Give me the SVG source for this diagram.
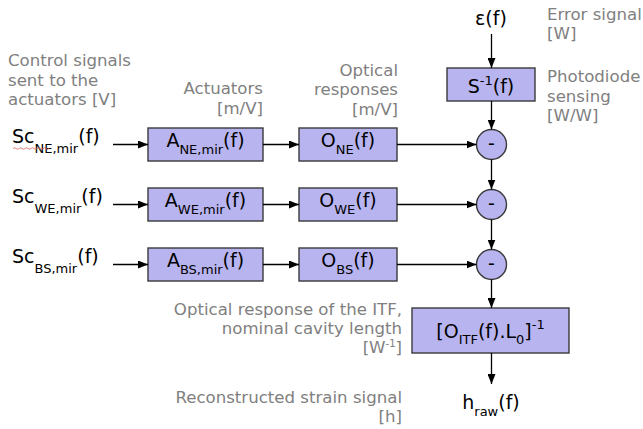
<svg xmlns="http://www.w3.org/2000/svg" width="643" height="429" viewBox="0 0 643 429">
<defs>
<marker id="ah" viewBox="0 0 10 8" refX="10" refY="4" markerWidth="10" markerHeight="8" markerUnits="userSpaceOnUse" orient="auto">
<path d="M0,0 L10,4 L0,8 Z" fill="#000"/>
</marker>
<style>
.box{fill:#b8b4f0;stroke:#3a3a3a;stroke-width:1.4}
.lbl{font-family:"DejaVu Sans",Verdana,sans-serif;font-size:16.6px;fill:#808080}
.m{font-family:"DejaVu Sans",Verdana,sans-serif;font-size:19px;fill:#000}
.s{font-size:13px}
.ln{stroke:#000;stroke-width:1.3;fill:none;marker-end:url(#ah)}
</style>
</defs>
<rect width="643" height="429" fill="#fff"/>

<g id="labels">
<text class="lbl" x="8" y="66">Control signals</text>
<text class="lbl" x="8" y="85.5">sent to the</text>
<text class="lbl" x="8" y="105">actuators [V]</text>
<text class="lbl" x="263" y="94" text-anchor="end">Actuators</text>
<text class="lbl" x="263" y="113.5" text-anchor="end">[m/V]</text>
<text class="lbl" x="398" y="75.5" text-anchor="end">Optical</text>
<text class="lbl" x="398" y="95" text-anchor="end">responses</text>
<text class="lbl" x="398" y="114.5" text-anchor="end">[m/V]</text>
<text class="lbl" x="547" y="19.5">Error signal</text>
<text class="lbl" x="547" y="39">[W]</text>
<text class="lbl" x="547" y="82">Photodiode</text>
<text class="lbl" x="547" y="101.5">sensing</text>
<text class="lbl" x="547" y="121">[W/W]</text>
<text class="lbl" x="402" y="315" text-anchor="end">Optical response of the ITF,</text>
<text class="lbl" x="402" y="334" text-anchor="end">nominal cavity length</text>
<text class="lbl" x="402" y="353" text-anchor="end">[W<tspan font-size="10px" dy="-6">-1</tspan><tspan dy="6">]</tspan></text>
<text class="lbl" x="402" y="402.5" text-anchor="end">Reconstructed strain signal</text>
<text class="lbl" x="402" y="422" text-anchor="end">[h]</text>
</g>

<g id="in_NE">
<text class="m" x="12" y="143">Sc<tspan class="s" dy="9.5">NE,mir</tspan><tspan dy="-9.5">(f)</tspan></text>
<path d="M13,148.5 q1.5,-1.5 3,0 t3,0 t3,0 t3,0 t3,0 t3,0 t3,0 t3,0 t3,0 t3,0 t3,0 t3,0" fill="none" stroke="#e06060" stroke-width="0.8"/>
</g>
<g id="in_WE">
<text class="m" x="12" y="203">Sc<tspan class="s" dy="9.5">WE,mir</tspan><tspan dy="-9.5">(f)</tspan></text>
</g>
<g id="in_BS">
<text class="m" x="12" y="263">Sc<tspan class="s" dy="9.5">BS,mir</tspan><tspan dy="-9.5">(f)</tspan></text>
</g>

<g id="A_NE">
<rect class="box" x="148" y="128" width="115" height="33"/>
<text class="m" x="205.5" y="147" text-anchor="middle">A<tspan class="s" dy="7">NE,mir</tspan><tspan dy="-7">(f)</tspan></text>
</g>
<g id="A_WE">
<rect class="box" x="148" y="188" width="115" height="33"/>
<text class="m" x="205.5" y="207" text-anchor="middle">A<tspan class="s" dy="7">WE,mir</tspan><tspan dy="-7">(f)</tspan></text>
</g>
<g id="A_BS">
<rect class="box" x="148" y="248" width="115" height="33"/>
<text class="m" x="205.5" y="267" text-anchor="middle">A<tspan class="s" dy="7">BS,mir</tspan><tspan dy="-7">(f)</tspan></text>
</g>

<g id="O_NE">
<rect class="box" x="299" y="128" width="98" height="33"/>
<text class="m" x="348" y="147" text-anchor="middle">O<tspan class="s" dy="7">NE</tspan><tspan dy="-7">(f)</tspan></text>
</g>
<g id="O_WE">
<rect class="box" x="299" y="188" width="98" height="33"/>
<text class="m" x="348" y="207" text-anchor="middle">O<tspan class="s" dy="7">WE</tspan><tspan dy="-7">(f)</tspan></text>
</g>
<g id="O_BS">
<rect class="box" x="299" y="248" width="98" height="33"/>
<text class="m" x="348" y="267" text-anchor="middle">O<tspan class="s" dy="7">BS</tspan><tspan dy="-7">(f)</tspan></text>
</g>

<g id="eps">
<text class="m" x="491" y="25" text-anchor="middle">ε(f)</text>
</g>
<g id="S">
<rect class="box" x="447" y="68" width="88" height="33"/>
<text class="m" x="491" y="93" text-anchor="middle">S<tspan class="s" dy="-8">-1</tspan><tspan dy="8">(f)</tspan></text>
</g>

<g id="sum1">
<circle class="box" cx="491.5" cy="144.5" r="15"/>
<text class="m" x="491.5" y="150" text-anchor="middle" font-size="16px">-</text>
</g>
<g id="sum2">
<circle class="box" cx="491.5" cy="204.5" r="15"/>
<text class="m" x="491.5" y="210" text-anchor="middle" font-size="16px">-</text>
</g>
<g id="sum3">
<circle class="box" cx="491.5" cy="264.5" r="15"/>
<text class="m" x="491.5" y="270" text-anchor="middle" font-size="16px">-</text>
</g>

<g id="ITF">
<rect class="box" x="412" y="308" width="157" height="45"/>
<text class="m" x="490.5" y="338" text-anchor="middle" font-size="20px">[O<tspan class="s" dy="6">ITF</tspan><tspan dy="-6">(f).L</tspan><tspan class="s" dy="6">0</tspan><tspan dy="-6">]</tspan><tspan class="s" dy="-9">-1</tspan></text>
</g>

<g id="hraw">
<text class="m" x="491" y="409" text-anchor="middle">h<tspan class="s" dy="7">raw</tspan><tspan dy="-7">(f)</tspan></text>
</g>

<g id="connectors">
<line class="ln" x1="113" y1="144.5" x2="148" y2="144.5"/>
<line class="ln" x1="113" y1="204.5" x2="148" y2="204.5"/>
<line class="ln" x1="113" y1="264.5" x2="148" y2="264.5"/>
<line class="ln" x1="263" y1="144.5" x2="299" y2="144.5"/>
<line class="ln" x1="263" y1="204.5" x2="299" y2="204.5"/>
<line class="ln" x1="263" y1="264.5" x2="299" y2="264.5"/>
<line class="ln" x1="397" y1="144.5" x2="476.5" y2="144.5"/>
<line class="ln" x1="397" y1="204.5" x2="476.5" y2="204.5"/>
<line class="ln" x1="397" y1="264.5" x2="476.5" y2="264.5"/>
<line class="ln" x1="491.5" y1="34" x2="491.5" y2="68"/>
<line class="ln" x1="491.5" y1="101" x2="491.5" y2="129.5"/>
<line class="ln" x1="491.5" y1="159.5" x2="491.5" y2="189.5"/>
<line class="ln" x1="491.5" y1="219.5" x2="491.5" y2="249.5"/>
<line class="ln" x1="491.5" y1="279.5" x2="491.5" y2="308"/>
<line class="ln" x1="491.5" y1="353" x2="491.5" y2="384"/>
</g>
</svg>
